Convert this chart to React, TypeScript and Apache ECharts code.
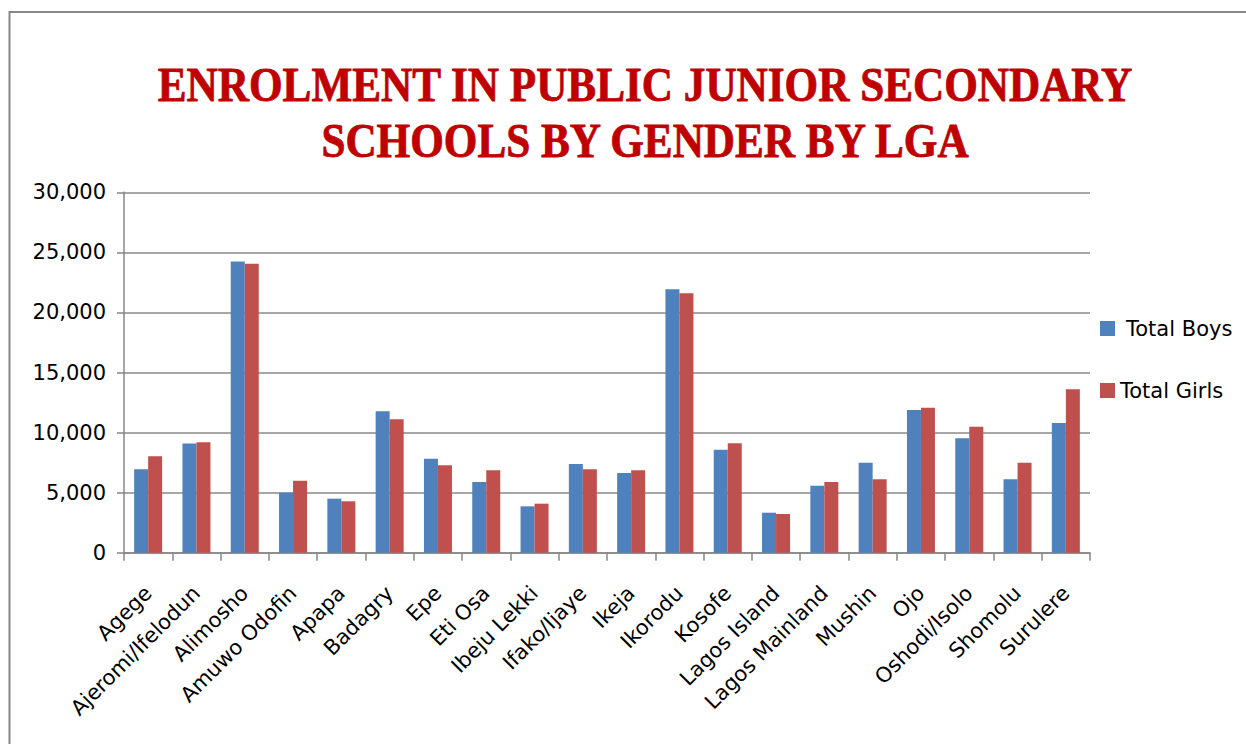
import React, { useEffect, useRef } from "react";
import * as echarts from "echarts";

const categories = [
  "Agege", "Ajeromi/Ifelodun", "Alimosho", "Amuwo Odofin", "Apapa", "Badagry", "Epe", "Eti Osa",
  "Ibeju Lekki", "Ifako/Ijaye", "Ikeja", "Ikorodu", "Kosofe", "Lagos Island", "Lagos Mainland",
  "Mushin", "Ojo", "Oshodi/Isolo", "Shomolu", "Surulere",
];
const totalBoys = [6950, 9100, 24250, 5000, 4500, 11770, 7830, 5880, 3860, 7380, 6630, 21920, 8570, 3330, 5580, 7490, 11880, 9520, 6110, 10800];
const totalGirls = [8030, 9190, 24060, 5990, 4280, 11100, 7280, 6860, 4080, 6940, 6860, 21590, 9110, 3220, 5890, 6110, 12070, 10490, 7490, 13600];
const titleLines = ["ENROLMENT IN PUBLIC JUNIOR SECONDARY", "SCHOOLS BY GENDER BY LGA"];

export default function App() {
  const ref = useRef<HTMLDivElement>(null);
  useEffect(() => {
    document.body.style.margin = "0";
    const chart = echarts.init(ref.current!, null, { renderer: "svg" });
    const font = "DejaVu Sans";
    chart.setOption({
      animation: false,
      backgroundColor: "#fff",
      graphic: [
        {
          type: "rect",
          shape: { x: 9.5, y: 12, width: 1300, height: 800 },
          style: { fill: "none", stroke: "#878787", lineWidth: 2 },
          silent: true,
        },
        ...titleLines.map((t, i) => ({
          type: "text",
          x: 645,
          y: 84.5 + i * 56,
          scaleX: 0.9,
          style: {
            text: t,
            fill: "#C00000",
            stroke: "#C00000",
            lineWidth: 0.8,
            font: "bold 48px 'Liberation Serif'",
            textAlign: "center",
            textVerticalAlign: "middle",
          },
        })),
      ],
      legend: {
        orient: "vertical",
        left: 1095,
        top: 313,
        itemWidth: 15,
        itemHeight: 15,
        itemGap: 41,
        icon: "rect",
        formatter: (n: string) => (n === "Total Boys" ? "{a|" + n + "}" : "{b|" + n + "}"),
        textStyle: {
          fontFamily: font,
          fontSize: 21,
          color: "#000",
          rich: {
            a: { fontFamily: font, fontSize: 21, color: "#000", padding: [0, 0, 0, 6], lineHeight: 21 },
            b: { fontFamily: font, fontSize: 21, color: "#000", lineHeight: 21 },
          },
        },
      },
      grid: { left: 124, right: 156, top: 192.3, bottom: 191.3, containLabel: false },
      xAxis: {
        type: "category",
        data: categories,
        axisLine: { lineStyle: { color: "#868686", width: 1.5 } },
        axisTick: { show: true, length: 8, lineStyle: { color: "#868686", width: 1.5 } },
        axisLabel: {
          rotate: 45,
          interval: 0,
          margin: 37,
          fontFamily: font,
          fontSize: 21,
          color: "#000",
        },
      },
      yAxis: {
        type: "value",
        min: 0,
        max: 30000,
        interval: 5000,
        axisLine: { show: true, lineStyle: { color: "#868686", width: 1.5 } },
        axisTick: { show: true, length: 7, lineStyle: { color: "#868686", width: 1.5 } },
        axisLabel: {
          margin: 18,
          fontFamily: font,
          fontSize: 21,
          color: "#000",
          formatter: (v: number) => v.toLocaleString("en-US"),
        },
        splitLine: { lineStyle: { color: "#8a8a8a", width: 1.5 } },
      },
      series: [
        {
          name: "Total Boys",
          type: "bar",
          data: totalBoys,
          barWidth: 14,
          barGap: "0%",
          itemStyle: { color: "#4F81BD" },
        },
        {
          name: "Total Girls",
          type: "bar",
          data: totalGirls,
          barWidth: 14,
          barGap: "0%",
          itemStyle: { color: "#C0504D" },
        },
      ],
    });
    return () => chart.dispose();
  }, []);
  return <div ref={ref} style={{ width: 1246, height: 744 }} />;
}
